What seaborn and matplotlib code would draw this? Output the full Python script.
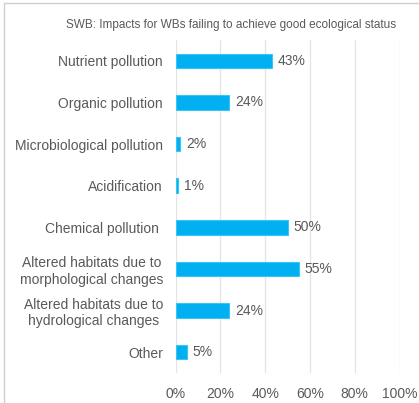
import matplotlib
matplotlib.use("Agg")
import matplotlib.pyplot as plt
import seaborn as sns
import pandas as pd
from matplotlib.lines import Line2D
from matplotlib.ticker import FuncFormatter

categories = [
    "Nutrient pollution",
    "Organic pollution",
    "Microbiological pollution",
    "Acidification",
    "Chemical pollution ",
    "Altered habitats due to\nmorphological changes",
    "Altered habitats due to\nhydrological changes",
    "Other",
]
values = [43, 24, 2, 1, 50, 55, 24, 5]
x_ticks = [0, 20, 40, 60, 80, 100]
title = "SWB: Impacts for WBs failing to achieve good ecological status"

df = pd.DataFrame({"category": categories, "value": values})

sns.set_theme(style="white")
plt.rcParams["font.family"] = ["Liberation Sans", "DejaVu Sans"]
text_color = "#595959"

fig = plt.figure(figsize=(4.19, 4.03), dpi=100)
ax = fig.add_axes([175.5 / 419, 1 - 373 / 403, (399.5 - 175.5) / 419, (373 - 40) / 403])

sns.barplot(data=df, x="value", y="category", orient="h", color="#00B0F0",
            width=0.35, saturation=1, ax=ax, zorder=3,
            edgecolor="#3CC4F5", linewidth=0.8)

ax.set_xlim(0, 100)
ax.set_xticks(x_ticks)
ax.xaxis.set_major_formatter(FuncFormatter(lambda v, p: f"{v:.0f}%"))
ax.grid(axis="x", color="#E4E4E4", linewidth=0.9, zorder=0)
ax.grid(axis="y", visible=False)
for s in ax.spines.values():
    s.set_visible(False)
ax.set_xlabel("")
ax.set_ylabel("")
ax.tick_params(axis="x", colors=text_color, labelsize=10, length=0, pad=10)
ax.tick_params(axis="y", colors=text_color, labelsize=10, length=0, pad=9)
for lbl in ax.get_yticklabels():
    lbl.set_multialignment("center")

for i, v in enumerate(values):
    ax.text(v + 2.6, i, f"{v}%", va="center", ha="left", color=text_color, fontsize=10)

fig.text(231 / 419, 1 - 25 / 403, title, ha="center", va="center",
         color=text_color, fontsize=8.5)

fig.add_artist(Line2D([4 / 419, 4 / 419], [0, 1 - 3 / 403], color="#D0D0D0", lw=1))
fig.add_artist(Line2D([4 / 419, 1], [1 - 3 / 403, 1 - 3 / 403], color="#D0D0D0", lw=1))

fig.savefig("out.png", dpi=100)
